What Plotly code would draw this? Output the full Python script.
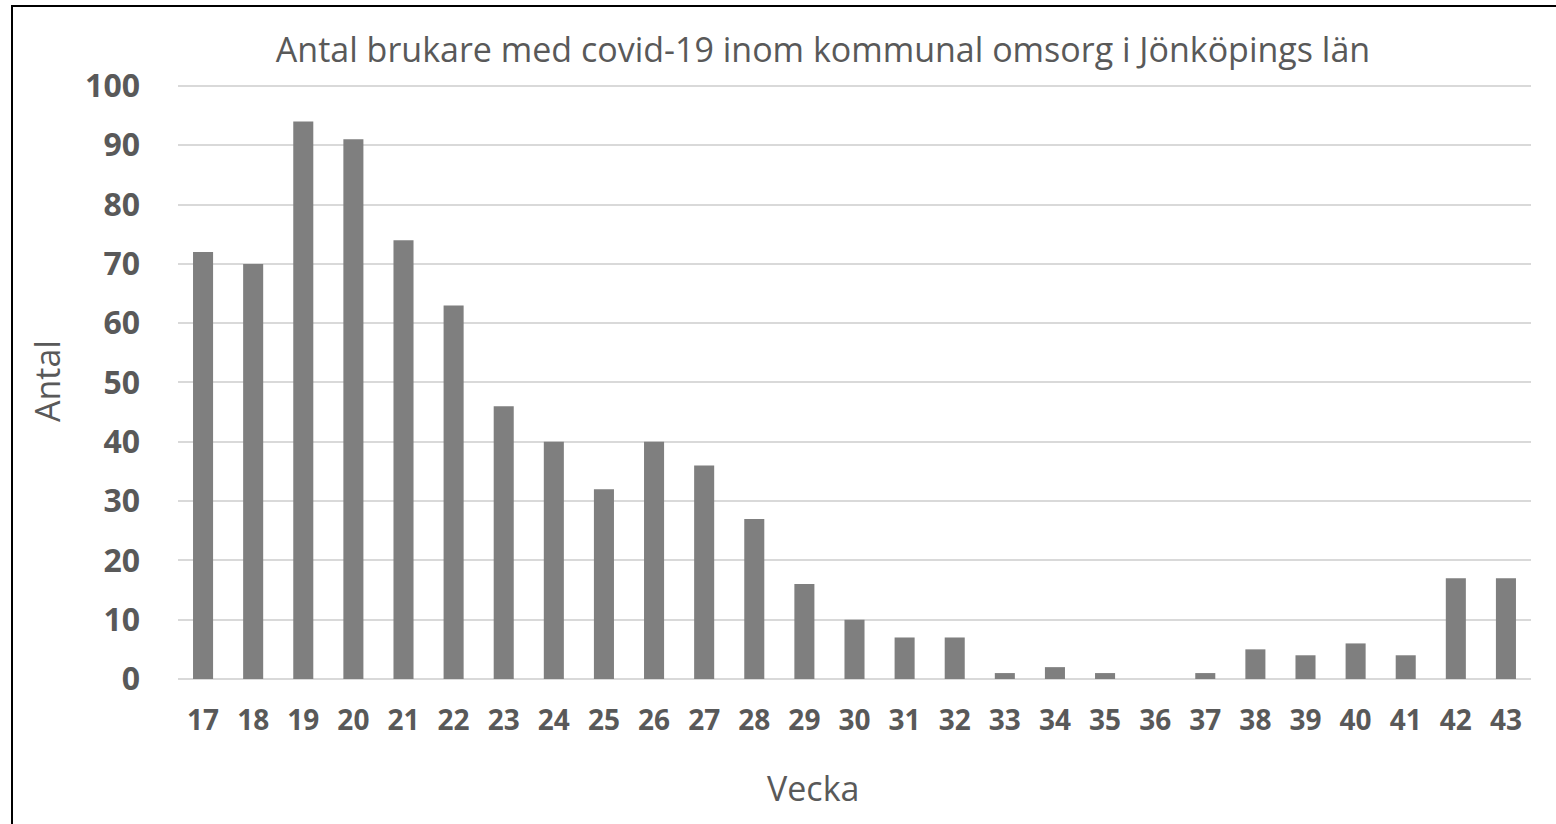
import plotly.graph_objects as go

weeks = [str(w) for w in range(17, 44)]
antal = [72, 70, 94, 91, 74, 63, 46, 40, 32, 40, 36, 27, 16, 10, 7, 7, 1, 2, 1, 0, 1, 5, 4, 6, 4, 17, 17]
y_ticks = [0, 10, 20, 30, 40, 50, 60, 70, 80, 90, 100]

title_text = "Antal brukare med covid-19 inom kommunal omsorg i Jönköpings län"
x_title = "Vecka"
y_title = "Antal"

TXT = "#595959"
FONT = "Open Sans"

fig = go.Figure(go.Bar(x=weeks, y=antal, marker=dict(color="#7f7f7f", line=dict(width=0))))

fig.update_layout(
    width=1556, height=824,
    margin=dict(l=178, r=25, t=83, b=145),
    paper_bgcolor="white", plot_bgcolor="white",
    bargap=0.6,
    showlegend=False,
    title=dict(text=title_text, x=823 / 1556, xanchor="center", xref="container",
               y=1 - 50 / 824, yanchor="middle", yref="container",
               font=dict(family=FONT, size=34, color=TXT)),
    font=dict(family=FONT, color=TXT),
    xaxis=dict(type="category", showgrid=False, showline=False, ticks="",
               tickfont=dict(family=FONT, size=28, color=TXT, weight="bold"),
               ticklabelstandoff=22),
    yaxis=dict(range=[0, 100.5], tickvals=y_ticks, showgrid=True, gridcolor="#d9d9d9", gridwidth=2,
               zeroline=True, zerolinecolor="#d9d9d9", zerolinewidth=2, showline=False, ticks="",
               tickfont=dict(family=FONT, size=32, color=TXT, weight="bold"),
               ticklabelstandoff=37,
               title=dict(text=y_title, font=dict(family=FONT, size=34, color=TXT), standoff=14)),
    annotations=[dict(text=x_title, xref="paper", yref="paper",
                      x=(813 - 178) / 1353, y=-(788 - 679) / 596,
                      xanchor="center", yanchor="middle", showarrow=False,
                      font=dict(family=FONT, size=34, color=TXT))],
    shapes=[dict(type="rect", xref="paper", yref="paper",
                 x0=-166 / 1353, x1=1.2, y0=-1, y1=1 + 77 / 596,
                 line=dict(color="black", width=2), fillcolor="rgba(0,0,0,0)", layer="above")],
)

fig.write_html("out.html", config={"displayModeBar": False},
               post_script="document.body.style.margin='0';")
